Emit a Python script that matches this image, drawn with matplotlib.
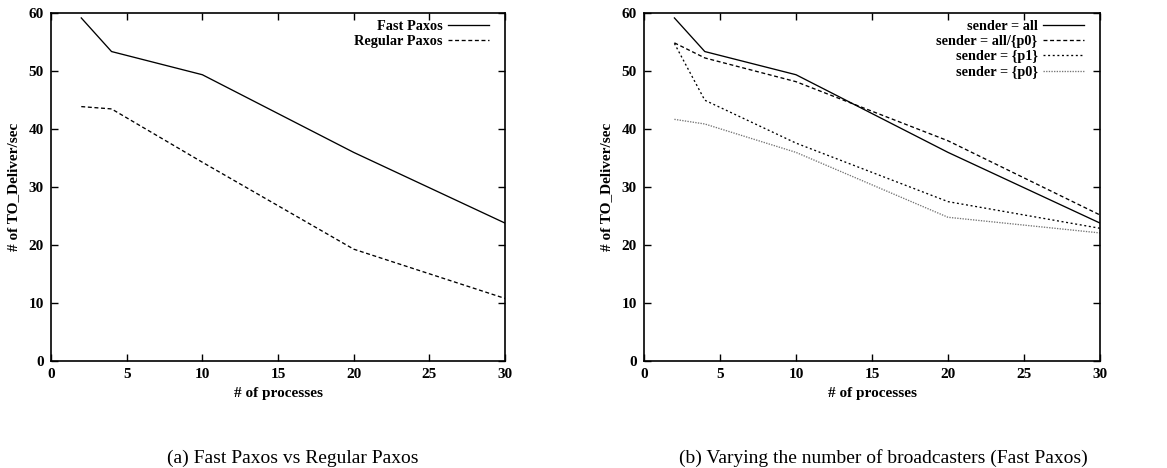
import matplotlib
matplotlib.use("Agg")
import matplotlib.pyplot as plt

plt.rcParams['font.family'] = ['Liberation Serif', 'DejaVu Serif']

processes = [2, 4, 10, 20, 30]
fast_paxos = [59.2, 53.4, 49.4, 36.0, 23.8]
regular_paxos = [43.9, 43.5, 34.3, 19.3, 10.8]

sender_all = [59.2, 53.4, 49.4, 36.0, 23.8]
sender_all_but_p0 = [54.9, 52.3, 48.2, 38.0, 25.2]
sender_p1 = [54.8, 45.0, 37.6, 27.5, 22.9]
sender_p0 = [41.7, 40.9, 36.0, 24.8, 22.1]

xticks = [0, 5, 10, 15, 20, 25, 30]
yticks = [0, 10, 20, 30, 40, 50, 60]
xlabel = "# of processes"
ylabel = "# of TO_Deliver/sec"
caption_a = "(a) Fast Paxos vs Regular Paxos"
caption_b = "(b) Varying the number of broadcasters (Fast Paxos)"

fig = plt.figure(figsize=(11.67, 4.68), dpi=100)
H = 468.0
W = 1167.0
ax1 = fig.add_axes([51 / W, 1 - 361 / H, (505 - 51) / W, (361 - 13.3) / H])
ax2 = fig.add_axes([644 / W, 1 - 361 / H, (1100 - 644) / W, (361 - 13.3) / H])

lw = 0.95
ax1.plot(processes, fast_paxos, color='black', lw=lw, ls='-', label='Fast Paxos')
ax1.plot(processes, regular_paxos, color='black', lw=lw, ls=(0, (3, 2)), label='Regular Paxos')

ax2.plot(processes, sender_all, color='black', lw=lw, ls='-', label='sender = all')
ax2.plot(processes, sender_all_but_p0, color='black', lw=lw, ls=(0, (3, 2)), label='sender = all/{p0}')
ax2.plot(processes, sender_p1, color='black', lw=lw, ls=(0, (1.5, 2)), label='sender = {p1}')
ax2.plot(processes, sender_p0, color='0.45', lw=lw, ls=(0, (1, 1)), label='sender = {p0}')

for ax in (ax1, ax2):
    ax.set_xlim(0, 30)
    ax.set_ylim(0, 60)
    ax.set_xticks(xticks)
    ax.set_yticks(yticks)
    ax.tick_params(direction='in', top=True, right=True, length=5, width=1,
                   labelsize=11, pad=5)
    for lab in ax.get_xticklabels() + ax.get_yticklabels():
        lab.set_fontweight('bold')
    for sp in ax.spines.values():
        sp.set_linewidth(1.2)
    ax.set_xlabel(xlabel, fontsize=11, fontweight='bold', labelpad=4)
    ax.set_ylabel(ylabel, fontsize=11, fontweight='bold', labelpad=6)
    ax.legend(loc='upper right', frameon=False, markerfirst=False,
              prop={'weight': 'bold', 'size': 10.3}, handlelength=2.9,
              handletextpad=0.35, labelspacing=0.17, borderpad=0.0,
              borderaxespad=0.0, bbox_to_anchor=(0.965, 0.982))

fig.text(292.5 / W, 1 - 463 / H, caption_a, ha='center', va='baseline', fontsize=14)
fig.text(883 / W, 1 - 463 / H, caption_b, ha='center', va='baseline', fontsize=14)

fig.savefig('out.png', dpi=100)
